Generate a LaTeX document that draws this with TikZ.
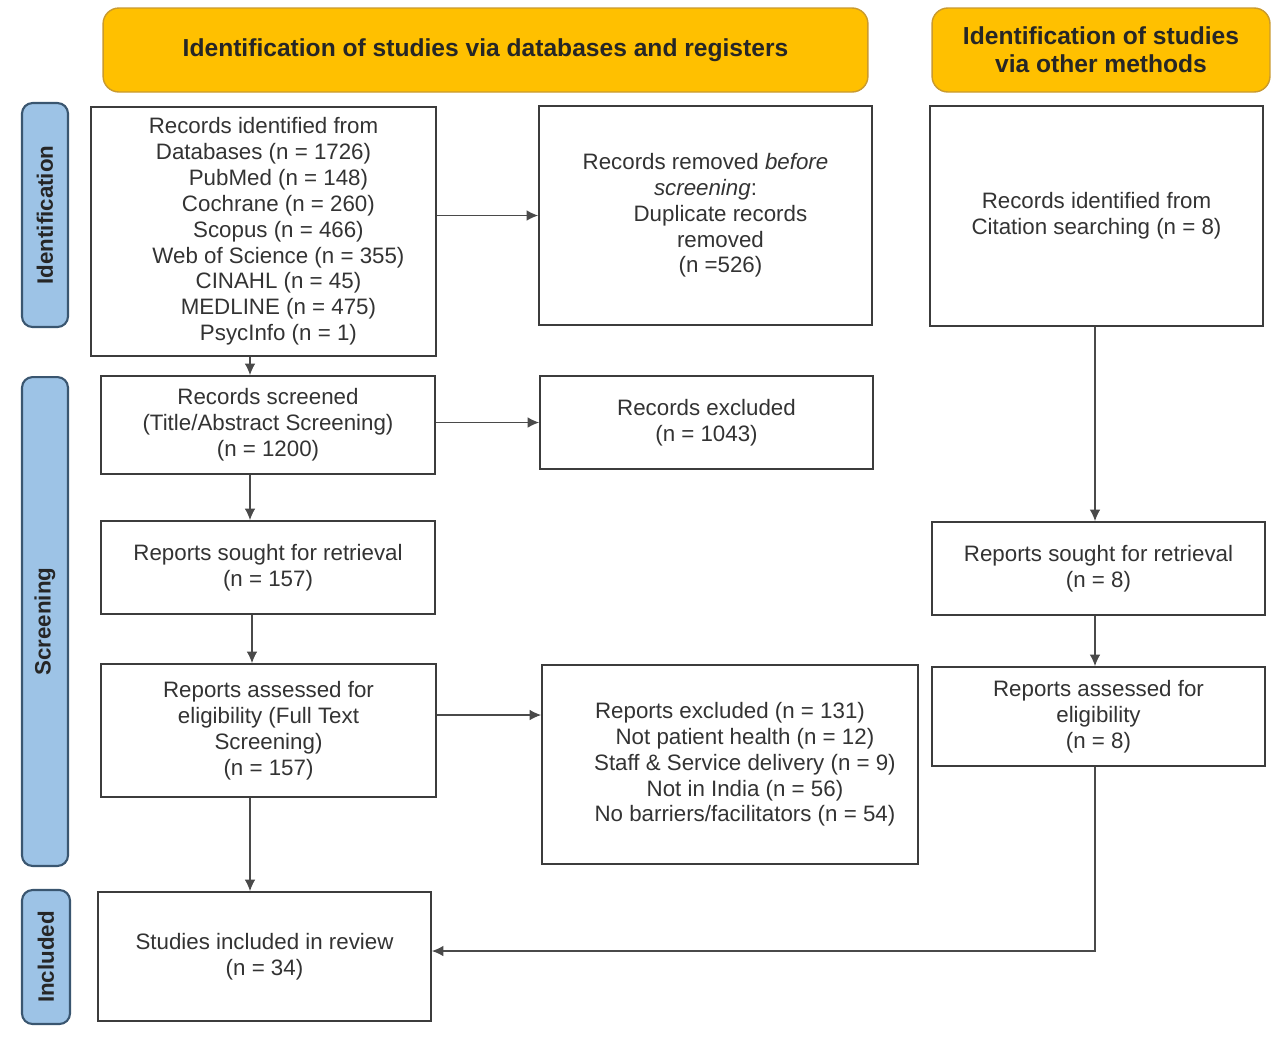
\documentclass[tikz,border=0pt]{standalone}
\usepackage{fontspec}
\setmainfont{Liberation Sans}
\usetikzlibrary{arrows.meta,calc}
\definecolor{hdrfill}{HTML}{FFC000}
\definecolor{hdrdraw}{HTML}{C99A2E}
\definecolor{sidefill}{HTML}{9DC3E6}
\definecolor{sidedraw}{HTML}{3A5670}
\definecolor{boxdraw}{HTML}{3C3C3C}
\definecolor{txt}{HTML}{333333}
\definecolor{arrcol}{HTML}{4A4A4A}
\tikzset{
  box/.style={draw=boxdraw, line width=1.1pt, fill=white, inner sep=0pt, align=center,
    text=txt, font=\fontsize{12.7}{14.7}\selectfont},
  hdr/.style={draw=hdrdraw, line width=0.8pt, fill=hdrfill, rounded corners=9pt, inner sep=0pt,
    align=center, text=black!85, font=\fontsize{14}{15.9}\selectfont\bfseries},
  side/.style={draw=sidedraw, line width=1.2pt, fill=sidefill, rounded corners=6pt, inner sep=0pt,
    rotate=90, text=black!85, font=\fontsize{12.7}{14}\selectfont\bfseries},
  arr/.style={draw=arrcol, line width=0.6pt, -{Latex[length=6.5pt,width=6pt]}}
}
\newcommand{\ind}{\hspace*{17pt}}
\begin{document}
\begin{tikzpicture}[x=0.02cm,y=-0.02cm]
\useasboundingbox (0,0) rectangle (1280,1036);
% headers
\node[hdr, minimum width=15.3cm, minimum height=1.68cm] (H1) at (485.5,50) {Identification of studies via databases and registers};
\node[hdr, minimum width=6.76cm, minimum height=1.68cm] (H2) at (1101,50) {Identification of studies\\via other methods};
% side bars
\node[side, minimum width=4.48cm, minimum height=0.92cm] (S1) at (45,215) {Identification};
\node[side, minimum width=9.78cm, minimum height=0.92cm] (S2) at (45,621.5) {Screening};
\node[side, minimum width=2.68cm, minimum height=0.96cm] (S3) at (46,957) {Included};
% boxes
\node[box, minimum width=6.9cm, minimum height=4.98cm] (B1) at (263.5,231.5)
  {Records identified from\\Databases (n = 1726)\\\ind PubMed (n = 148)\\\ind Cochrane (n = 260)\\\ind Scopus (n = 466)\\\ind Web of Science (n = 355)\\\ind CINAHL (n = 45)\\\ind MEDLINE (n = 475)\\\ind PsycInfo (n = 1)};
\node[box, minimum width=6.66cm, minimum height=4.38cm] (B2) at (705.5,215.5)
  {Records removed \textit{before}\\\textit{screening}:\\\ind Duplicate records\\\ind removed\\\ind (n =526)};
\node[box, minimum width=6.66cm, minimum height=4.4cm] (B3) at (1096.5,216)
  {Records identified from\\Citation searching (n = 8)};
\node[box, minimum width=6.68cm, minimum height=1.96cm] (B4) at (268,425)
  {Records screened\\(Title/Abstract Screening)\\(n = 1200)};
\node[box, minimum width=6.66cm, minimum height=1.86cm] (B5) at (706.5,422.5)
  {Records excluded\\(n = 1043)};
\node[box, minimum width=6.68cm, minimum height=1.86cm] (B6) at (268,567.5)
  {Reports sought for retrieval\\(n = 157)};
\node[box, minimum width=6.66cm, minimum height=1.86cm] (B7) at (1098.5,568.5)
  {Reports sought for retrieval\\(n = 8)};
\node[box, minimum width=6.7cm, minimum height=2.66cm] (B8) at (268.5,730.5)
  {Reports assessed for\\eligibility (Full Text\\Screening)\\(n = 157)};
\node[box, minimum width=7.52cm, minimum height=3.98cm] (B9) at (730,764.5)
  {Reports excluded (n = 131)\\\ind Not patient health (n = 12)\\\ind Staff \& Service delivery (n = 9)\\\ind Not in India (n = 56)\\\ind No barriers/facilitators (n = 54)};
\node[box, minimum width=6.66cm, minimum height=1.98cm] (B10) at (1098.5,716.5)
  {Reports assessed for\\eligibility\\(n = 8)};
\node[box, minimum width=6.66cm, minimum height=2.58cm] (B11) at (264.5,956.5)
  {Studies included in review\\(n = 34)};
% connectors
\draw[arr] (B1.east |- B2.west) -- (B2.west);
\draw[arr] ([xshift=-0.36cm]B4.north |- B1.south) -- ([xshift=-0.36cm]B4.north);
\draw[arr] (B4.east |- B5.west) -- (B5.west);
\draw[arr] ([xshift=-0.36cm]B4.south) -- ([xshift=-0.36cm]B6.north);
\draw[arr] ([xshift=-0.32cm]B6.south) -- ([xshift=-0.32cm]B6.south |- B8.north);
\draw[arr] ([yshift=0.31cm]B8.east) -- ([yshift=0.31cm]B8.east -| B9.west);
\draw[arr] ([xshift=-0.37cm]B8.south) -- ([xshift=-0.37cm]B8.south |- B11.north);
\draw[arr] ([xshift=-0.03cm]B3.south) -- ([xshift=-0.03cm]B3.south |- B7.north);
\draw[arr] ([xshift=-0.07cm]B7.south) -- ([xshift=-0.07cm]B7.south |- B10.north);
\draw[arr] ([xshift=-0.07cm]B10.south) |- ([yshift=0.11cm]B11.east);
\end{tikzpicture}
\end{document}
